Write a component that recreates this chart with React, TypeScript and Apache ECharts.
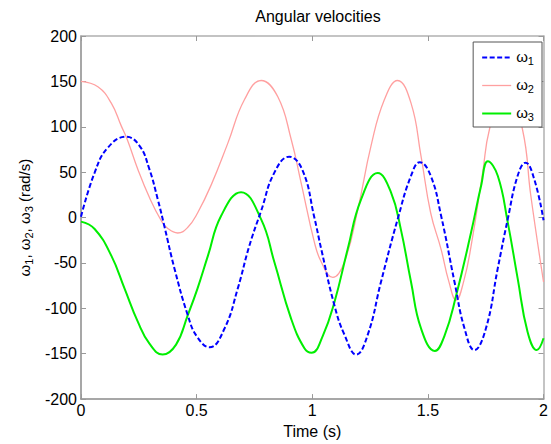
import React, { useEffect, useRef } from "react";
import * as echarts from "echarts";

// ω1 (blue, dashed)
const omega1Time = [0, 0.059, 0.116, 0.195, 0.253, 0.296, 0.332, 0.36, 0.404, 0.461, 0.501, 0.556, 0.621, 0.678, 0.728, 0.779, 0.836, 0.9, 0.958, 1.009, 1.039, 1.096, 1.139, 1.19, 1.24, 1.297, 1.369, 1.427, 1.465, 1.512, 1.557, 1.615, 1.658, 1.701, 1.751, 1.802, 1.845, 1.888, 1.922, 1.96, 2.0];
const omega1Values = [1, 49.5, 77, 89, 79, 53, 20, -9, -56, -107, -131, -143, -122, -78, -31, 7.5, 49.5, 67, 52, 0, -35, -97, -129, -151, -129, -71, -2, 46, 61, 46, 2, -71, -122, -146, -122, -56, -2, 46, 60.5, 42, -3];

// ω2 (light red, thin)
const omega2Time = [0, 0.073, 0.131, 0.174, 0.2, 0.246, 0.296, 0.346, 0.375, 0.418, 0.461, 0.504, 0.563, 0.635, 0.707, 0.779, 0.851, 0.909, 0.951, 1.009, 1.039, 1.089, 1.139, 1.197, 1.254, 1.312, 1.369, 1.427, 1.47, 1.512, 1.557, 1.59, 1.622, 1.655, 1.687, 1.737, 1.766, 1.837, 1.909, 1.945, 2.0];
const omega2Values = [150, 144, 126, 101, 86, 53, 22, -3, -12, -17, -11, 5, 36, 82, 130, 151, 133, 86, 39, -27, -49, -66, -49, 9, 79, 130, 151, 126, 68, 5, -35, -70, -91, -70, -31, 50, 97, 150, 97, 24, -71];

// ω3 (green, solid)
const omega3Time = [0, 0.059, 0.131, 0.188, 0.246, 0.296, 0.353, 0.411, 0.461, 0.504, 0.549, 0.606, 0.692, 0.779, 0.836, 0.908, 0.966, 0.997, 1.046, 1.096, 1.153, 1.211, 1.283, 1.34, 1.383, 1.427, 1.47, 1.53, 1.572, 1.622, 1.687, 1.73, 1.759, 1.802, 1.845, 1.888, 1.931, 1.971, 2.0];
const omega3Values = [-4.5, -12.6, -42, -78, -115, -139, -151, -140, -108, -78, -42, 2, 28, -2, -49, -111, -144, -149, -130, -93, -35, 20, 49, 28, -13, -71, -122, -147, -130, -86, -16, 35, 62, 46, -5, -67, -126, -146, -133];

const seriesNames = ["ω1", "ω2", "ω3"];
const seriesColors = ["#0000ff", "#ffa0a0", "#00ee00"];
const titleText = "Angular velocities";
const xName = "Time (s)";
const xMin = 0, xMax = 2, xStep = 0.5;
const yMin = -200, yMax = 200, yStep = 50;

const FONT = "'Liberation Sans', Arial, Helvetica, sans-serif";

export default function App() {
  const ref = useRef<HTMLDivElement>(null);
  useEffect(() => {
    if (!ref.current) return;
    const chart = echarts.init(ref.current, null, { renderer: "svg" });
    const zip = (t: number[], v: number[]) => t.map((x, i) => [x, v[i]]);
    const rich = {
      w: { fontSize: 15, fontFamily: FONT, color: "#000", lineHeight: 17, verticalAlign: "top" },
      s: { fontSize: 11, fontFamily: FONT, color: "#000", lineHeight: 11, padding: [9, 0, 0, 0], verticalAlign: "bottom" },
    };
    const darkAxis = { onZero: false, lineStyle: { color: "#8a8a8a", width: 1.5 } };
    const lightAxis = { onZero: false, lineStyle: { color: "#b0b0b0", width: 1.5 } };
    const tick = { inside: true, length: 5, lineStyle: { color: "#999", width: 1 } };
    chart.setOption({
      animation: false,
      backgroundColor: "#fff",
      title: {
        text: titleText,
        left: 313,
        top: 3,
        textAlign: "center",
        textStyle: { fontSize: 16, fontWeight: "normal", color: "#000", fontFamily: FONT },
      },
      grid: { left: 81, right: 6, top: 36, bottom: 43, show: false },
      legend: {
        orient: "vertical",
        right: 9,
        top: 42,
        padding: [4, 8, 5, 8],
        itemGap: 8,
        itemWidth: 29,
        itemHeight: 14,
        backgroundColor: "#fff",
        borderColor: "#555",
        borderWidth: 1,
        borderRadius: 0,
        itemStyle: { opacity: 0, borderWidth: 0 },
        data: seriesNames.map((n, i) => ({ name: n, lineStyle: { width: i === 1 ? 1.3 : 2 } })),
        formatter: (name: string) => `{w|ω}{s|${name.slice(1)}}`,
        textStyle: { rich, fontFamily: FONT },
      },
      xAxis: [
        {
          type: "value",
          min: xMin,
          max: xMax,
          interval: xStep,
          position: "bottom",
          name: xName,
          nameLocation: "middle",
          nameGap: 22,
          nameTextStyle: { fontSize: 16, color: "#000", fontFamily: FONT },
          axisLine: { show: true, ...darkAxis },
          axisTick: tick,
          axisLabel: { fontSize: 16, color: "#000", fontFamily: FONT, margin: 3 },
          splitLine: { show: false },
        },
        {
          type: "value",
          min: xMin,
          max: xMax,
          interval: xStep,
          position: "top",
          axisLine: { show: true, ...lightAxis },
          axisTick: tick,
          axisLabel: { show: false },
          splitLine: { show: false },
        },
      ],
      yAxis: [
        {
          type: "value",
          min: yMin,
          max: yMax,
          interval: yStep,
          position: "left",
          name: "{w|ω}{s|1}{w|, ω}{s|2}{w|, ω}{s|3}{w| (rad/s)}",
          nameLocation: "middle",
          nameRotate: 90,
          nameGap: 41,
          nameTextStyle: { rich, fontFamily: FONT },
          axisLine: { show: true, ...darkAxis },
          axisTick: tick,
          axisLabel: { fontSize: 16, color: "#000", fontFamily: FONT, margin: 4 },
          splitLine: { show: false },
        },
        {
          type: "value",
          min: yMin,
          max: yMax,
          interval: yStep,
          position: "right",
          axisLine: { show: true, ...lightAxis },
          axisTick: tick,
          axisLabel: { show: false },
          splitLine: { show: false },
        },
      ],
      series: [
        {
          name: seriesNames[0],
          type: "line",
          data: zip(omega1Time, omega1Values),
          smooth: 0.45,
          symbol: "none",
          color: seriesColors[0],
          lineStyle: { color: seriesColors[0], width: 2, type: [5, 2.5] },
          z: 4,
        },
        {
          name: seriesNames[1],
          type: "line",
          data: zip(omega2Time, omega2Values),
          smooth: 0.45,
          symbol: "none",
          color: seriesColors[1],
          lineStyle: { color: seriesColors[1], width: 1.3 },
          z: 2,
        },
        {
          name: seriesNames[2],
          type: "line",
          data: zip(omega3Time, omega3Values),
          smooth: 0.45,
          symbol: "none",
          color: seriesColors[2],
          lineStyle: { color: seriesColors[2], width: 2 },
          z: 3,
        },
      ],
    });
    return () => chart.dispose();
  }, []);
  return (
    <div
      ref={ref}
      style={{ position: "fixed", left: 0, top: 0, width: 551, height: 444, background: "#fff" }}
    />
  );
}
